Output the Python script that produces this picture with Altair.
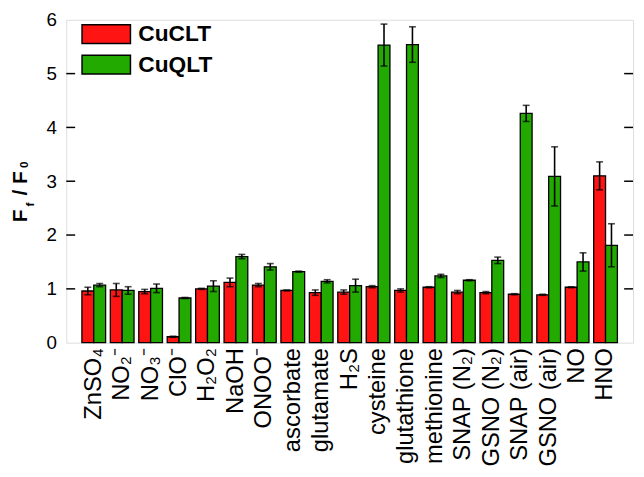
import altair as alt
import pandas as pd

categories = ["ZnSO₄", "NO₂⁻", "NO₃⁻", "ClO⁻", "H₂O₂", "NaOH", "ONOO⁻", "ascorbate",
              "glutamate", "H₂S", "cysteine", "glutathione", "methionine", "SNAP (N₂)",
              "GSNO (N₂)", "SNAP (air)", "GSNO (air)", "NO", "HNO"]
series = ["CuCLT", "CuQLT"]
cuclt = [0.96, 0.98, 0.95, 0.11, 1.00, 1.12, 1.07, 0.97, 0.93, 0.94, 1.04, 0.97, 1.03,
         0.94, 0.93, 0.90, 0.89, 1.03, 3.10]
cuclt_err = [0.07, 0.12, 0.04, 0.01, 0.01, 0.08, 0.03, 0.01, 0.05, 0.04, 0.02, 0.03, 0.01,
             0.03, 0.02, 0.01, 0.01, 0.01, 0.26]
cuqlt = [1.07, 0.97, 1.01, 0.83, 1.05, 1.60, 1.41, 1.32, 1.14, 1.06, 5.53, 5.54, 1.24,
         1.16, 1.53, 4.26, 3.09, 1.50, 1.81]
cuqlt_err = [0.03, 0.07, 0.08, 0.01, 0.10, 0.04, 0.06, 0.01, 0.03, 0.12, 0.39, 0.33, 0.03,
             0.01, 0.06, 0.15, 0.55, 0.17, 0.40]
y_ticks = [1, 2, 3, 4, 5]
y_labels = [0, 1, 2, 3, 4, 5, 6]
colors = ["#FF1414", "#22AA00"]

rows = []
for i, c in enumerate(categories):
    rows.append(dict(cat=c, series=series[0], v=cuclt[i], e=cuclt_err[i]))
    rows.append(dict(cat=c, series=series[1], v=cuqlt[i], e=cuqlt_err[i]))
df = pd.DataFrame(rows)
df["lo"] = df["v"] - df["e"]
df["hi"] = df["v"] + df["e"]

W, H = 574, 327
FONT = "Liberation Sans"

x = alt.X("cat:N", sort=categories, title=None,
          scale=alt.Scale(paddingInner=0.166, paddingOuter=0.55),
          axis=alt.Axis(labelAngle=270, labelFontSize=24, labelFont=FONT, labelColor="black",
                        labelPadding=5, ticks=False, domain=False, labelLimit=0))
xo = alt.XOffset("series:N", sort=series, scale=alt.Scale(paddingInner=0, paddingOuter=0))
yscale = alt.Scale(domain=[0, 6], nice=False)
y = alt.Y("v:Q", scale=yscale,
          axis=alt.Axis(values=y_labels, format="d", ticks=False, domain=False, grid=False,
                        labelFontSize=19, labelFont=FONT, labelColor="black",
                        labelPadding=10, title=None))

base = alt.Chart(df)
bars = base.mark_bar(stroke="black", strokeWidth=1.3).encode(
    x=x, xOffset=xo, y=y,
    color=alt.Color("series:N", scale=alt.Scale(domain=series, range=colors),
                    legend=alt.Legend(title=None, orient="none", legendX=29, legendY=3,
                                      symbolType="M-2.58,-1L2.58,-1L2.58,1L-2.58,1Z",
                                      symbolSize=361, symbolStrokeColor="black",
                                      symbolStrokeWidth=1.5, symbolOpacity=1,
                                      labelFontSize=23, labelFont=FONT, labelFontWeight="bold",
                                      labelColor="black", labelOffset=21, rowPadding=6)),
)
err = base.mark_rule(color="black", strokeWidth=1.6).encode(
    x=x, xOffset=xo, y=alt.Y("lo:Q", scale=yscale), y2="hi:Q")
cap_hi = base.mark_tick(color="black", thickness=1.6, size=7, orient="horizontal").encode(
    x=x, xOffset=xo, y=alt.Y("hi:Q", scale=yscale))
cap_lo = base.mark_tick(color="black", thickness=1.6, size=7, orient="horizontal").encode(
    x=x, xOffset=xo, y=alt.Y("lo:Q", scale=yscale))

tdf = pd.DataFrame({"t": y_ticks})
left_ticks = alt.Chart(tdf).mark_rule(color="black", strokeWidth=1.5).encode(
    y=alt.Y("t:Q", scale=yscale), x=alt.value(0), x2=alt.value(9))
right_ticks = alt.Chart(tdf).mark_rule(color="black", strokeWidth=1.5).encode(
    y=alt.Y("t:Q", scale=yscale), x=alt.value(W - 9), x2=alt.value(W))

one = pd.DataFrame({"k": [0]})
def piece(txt, px, py, size):
    return alt.Chart(one).mark_text(text=txt, angle=270, align="left", baseline="alphabetic",
                                    font=FONT, fontWeight="bold", fontSize=size,
                                    color="black").encode(x=alt.value(px), y=alt.value(py))

title = (piece("F", -40, 205, 21) + piece("f", -33, 189, 12) +
         piece("/ F", -40, 178, 21) + piece("0", -39, 150, 12))

chart = alt.layer(bars, err, cap_hi, cap_lo, left_ticks, right_ticks, title).properties(
    width=W, height=H,
    autosize=alt.AutoSizeParams(type="none"),
    padding={"left": 59, "top": 9, "right": 3, "bottom": 125},
).configure_view(stroke="black", strokeWidth=1.5).configure(background="white")

chart.save("out.html", embed_options={"renderer": "svg", "actions": False})
